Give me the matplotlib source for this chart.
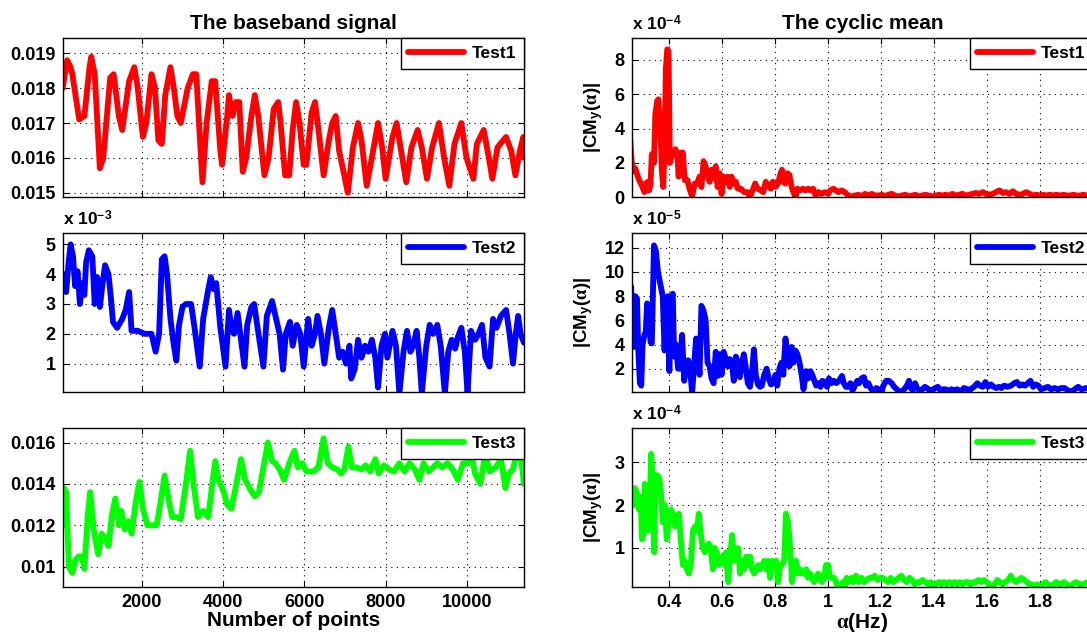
import matplotlib
matplotlib.use("Agg")
import matplotlib.pyplot as plt
from matplotlib.ticker import FuncFormatter

plt.rcParams.update({
    "font.family": ["Liberation Sans", "DejaVu Sans"],
    "font.weight": "bold",
    "mathtext.fontset": "custom",
    "mathtext.rm": "Liberation Serif",
    "mathtext.it": "Liberation Serif:italic",
    "mathtext.bf": "Liberation Sans:bold",
    "axes.linewidth": 1.0,
})

# ---------------- baseband signal (sample index vs amplitude) ----------------
n1 = [50, 160, 245, 287, 457, 584, 711, 754, 838, 966,
      1050, 1220, 1305, 1432, 1517, 1686, 1813, 1898, 2025, 2110,
      2237, 2322, 2407, 2492, 2576, 2704, 2788, 2873, 2958, 3128,
      3255, 3340, 3407, 3492, 3594, 3721, 3806, 3933, 3975, 4102,
      4145, 4230, 4314, 4399, 4484, 4569, 4696, 4781, 4866, 5018,
      5120, 5247, 5357, 5417, 5527, 5629, 5713, 5798, 5883, 5985,
      6052, 6180, 6264, 6349, 6476, 6604, 6688, 6773, 6858, 6985,
      7070, 7197, 7324, 7409, 7536, 7663, 7816, 7918, 8002, 8172,
      8274, 8384, 8511, 8638, 8791, 8893, 9020, 9147, 9316, 9443,
      9571, 9698, 9867, 9994, 10164, 10249, 10418, 10545, 10630, 10757,
      10969, 11096, 11198, 11308, 11393, 11410]
test1 = [.0180, .0188, .0186, .0184, .0171, .0172, .0186, .0189, .0184, .0157,
         .0160, .0183, .0184, .0172, .0168, .0182, .0186, .0180, .0166, .0170,
         .0184, .0180, .0165, .0164, .0178, .0186, .0180, .0172, .0170, .0180,
         .0184, .0184, .0170, .0153, .0170, .0182, .0182, .0162, .0158, .0172,
         .0178, .0172, .0176, .0176, .0156, .0160, .0172, .0178, .0172, .0155,
         .0160, .0174, .0176, .0170, .0155, .0155, .0168, .0176, .0170, .0158,
         .0158, .0173, .0176, .0168, .0155, .0165, .0170, .0172, .0162, .0155,
         .0150, .0163, .0170, .0165, .0152, .0160, .0170, .0163, .0154, .0166,
         .0170, .0162, .0153, .0163, .0168, .0163, .0154, .0163, .0170, .0160,
         .0152, .0164, .0170, .0160, .0154, .0164, .0168, .0160, .0154, .0163,
         .0166, .0162, .0155, .0162, .0166, .0160]

n2 = [50, 92, 135, 203, 245, 304, 355, 415, 474, 525,
      584, 627, 694, 779, 838, 898, 966, 1033, 1093, 1178,
      1237, 1288, 1390, 1517, 1601, 1686, 1746, 1898, 2068, 2237,
      2339, 2424, 2492, 2560, 2619, 2704, 2788, 2848, 2916, 3000,
      3085, 3212, 3297, 3424, 3509, 3636, 3696, 3763, 3831, 3933,
      4060, 4145, 4204, 4272, 4357, 4442, 4526, 4594, 4696, 4764,
      4849, 4993, 5077, 5205, 5289, 5391, 5476, 5544, 5646, 5713,
      5815, 5900, 5985, 6095, 6180, 6264, 6324, 6409, 6493, 6604,
      6688, 6773, 6858, 6943, 7027, 7112, 7155, 7239, 7324, 7409,
      7494, 7579, 7663, 7748, 7816, 7901, 7986, 8045, 8172, 8257,
      8341, 8443, 8528, 8613, 8681, 8765, 8833, 8893, 9003, 9088,
      9173, 9274, 9359, 9461, 9545, 9630, 9715, 9782, 9867, 9952,
      10020, 10105, 10206, 10291, 10376, 10461, 10562, 10647, 10732, 10842,
      10969, 11054, 11139, 11207, 11266, 11325, 11410]
test2 = [3.6, 4.0, 3.4, 4.5, 5.0, 4.6, 3.6, 4.1, 3.0, 3.7,
         3.3, 4.4, 4.8, 4.6, 3.0, 3.9, 2.9, 3.7, 4.3, 4.0,
         3.2, 2.4, 2.2, 2.5, 2.8, 3.4, 2.1, 2.1, 2.0, 2.0,
         1.4, 2.0, 4.5, 4.6, 4.0, 2.5, 1.6, 1.1, 2.3, 2.9,
         3.0, 3.0, 2.2, 0.9, 2.5, 3.5, 3.9, 3.5, 3.7, 2.2,
         0.9, 2.8, 2.2, 2.0, 2.7, 1.8, 0.9, 2.3, 2.9, 3.0,
         2.2, 0.9, 2.6, 3.1, 2.6, 2.0, 0.8, 2.0, 2.4, 1.6,
         2.3, 2.0, 0.9, 2.5, 1.6, 2.0, 2.6, 2.0, 1.0, 2.2,
         2.8, 2.0, 1.2, 1.4, 1.0, 1.6, 0.5, 0.8, 1.8, 1.2,
         1.6, 1.4, 1.8, 1.2, 0.2, 1.6, 2.0, 1.2, 2.1, 1.6,
         0.0, 1.4, 2.1, 1.4, 1.6, 2.1, 1.2, 0.0, 1.6, 2.3,
         2.0, 2.3, 1.6, 0.0, 1.4, 1.8, 1.5, 1.9, 2.2, 1.4,
         0.0, 2.1, 1.8, 2.0, 2.3, 1.2, 0.9, 2.5, 2.2, 2.6,
         2.8, 2.0, 1.0, 2.0, 2.6, 2.0, 1.7]  # x 1e-3

n3 = [50, 84, 135, 203, 287, 355, 440, 525, 584, 669,
      728, 813, 923, 1008, 1093, 1178, 1262, 1347, 1432, 1491,
      1576, 1661, 1746, 1856, 1941, 2025, 2136, 2237, 2364, 2449,
      2559, 2661, 2746, 2848, 2958, 3085, 3187, 3272, 3382, 3509,
      3636, 3721, 3806, 3891, 4018, 4102, 4204, 4357, 4442, 4543,
      4679, 4781, 4883, 4993, 5103, 5205, 5289, 5391, 5501, 5629,
      5756, 5840, 5951, 6052, 6222, 6349, 6476, 6578, 6688, 6816,
      6900, 6985, 7087, 7172, 7282, 7409, 7511, 7621, 7748, 7833,
      7960, 8087, 8214, 8341, 8469, 8596, 8723, 8833, 8935, 9062,
      9173, 9274, 9401, 9528, 9655, 9782, 9910, 10037, 10105, 10206,
      10333, 10461, 10562, 10715, 10842, 10952, 11037, 11139, 11266, 11350,
      11410]
test3 = [.0120, .0138, .0136, .0100, .0097, .0103, .0105, .0105, .0099, .0125,
         .0136, .0118, .0106, .0116, .0114, .0110, .0125, .0133, .0120, .0127,
         .0118, .0122, .0116, .0132, .0141, .0128, .0120, .0120, .0120, .0130,
         .0144, .0132, .0124, .0124, .0123, .0140, .0156, .0140, .0124, .0127,
         .0124, .0138, .0151, .0142, .0136, .0130, .0128, .0143, .0152, .0142,
         .0137, .0134, .0136, .0148, .0160, .0151, .0150, .0147, .0142, .0150,
         .0156, .0148, .0150, .0146, .0146, .0148, .0162, .0150, .0148, .0147,
         .0145, .0147, .0158, .0148, .0148, .0147, .0149, .0146, .0152, .0145,
         .0149, .0147, .0146, .0150, .0146, .0150, .0147, .0142, .0150, .0146,
         .0148, .0150, .0148, .0150, .0147, .0142, .0150, .0150, .0155, .0145,
         .0140, .0155, .0146, .0148, .0152, .0138, .0145, .0147, .0158, .0150,
         .0140]

# ---------------- cyclic mean |CM_y(alpha)| ----------------
a1 = [0.250, 0.258, 0.263, 0.273, 0.279, 0.288, 0.298, 0.308, 0.313, 0.321,
      0.326, 0.331, 0.336, 0.344, 0.349, 0.356, 0.361, 0.368, 0.374, 0.379,
      0.384, 0.389, 0.394, 0.399, 0.404, 0.409, 0.417, 0.425, 0.432, 0.437,
      0.445, 0.453, 0.460, 0.470, 0.478, 0.488, 0.498, 0.507, 0.516, 0.523,
      0.531, 0.539, 0.546, 0.554, 0.561, 0.569, 0.577, 0.584, 0.592, 0.599,
      0.607, 0.615, 0.622, 0.630, 0.637, 0.645, 0.653, 0.660, 0.672, 0.684,
      0.697, 0.706, 0.716, 0.726, 0.735, 0.747, 0.756, 0.766, 0.777, 0.785,
      0.792, 0.802, 0.812, 0.820, 0.827, 0.832, 0.840, 0.847, 0.855, 0.863,
      0.870, 0.878, 0.885, 0.896, 0.906, 0.916, 0.925, 0.934, 0.944, 0.954,
      0.964, 0.975, 0.988, 1.001, 1.009, 1.020, 1.030, 1.040, 1.051, 1.064,
      1.077, 1.089, 1.102, 1.115, 1.127, 1.140, 1.153, 1.165, 1.178, 1.191,
      1.203, 1.216, 1.228, 1.241, 1.254, 1.266, 1.279, 1.292, 1.305, 1.318,
      1.330, 1.343, 1.356, 1.368, 1.381, 1.394, 1.406, 1.419, 1.432, 1.444,
      1.457, 1.470, 1.482, 1.495, 1.508, 1.520, 1.533, 1.546, 1.558, 1.571,
      1.584, 1.596, 1.609, 1.622, 1.634, 1.647, 1.660, 1.672, 1.685, 1.698,
      1.710, 1.723, 1.736, 1.748, 1.761, 1.774, 1.786, 1.799, 1.812, 1.824,
      1.837, 1.850, 1.862, 1.875, 1.888, 1.900, 1.913, 1.926, 1.938, 1.951,
      1.964, 1.976, 2.000]
cm1 = [4.4, 2.5, 1.5, 1.7, 1.4, 1.0, 0.7, 0.3, 0.8, 0.9,
       0.4, 0.8, 2.5, 2.0, 4.8, 5.6, 5.7, 4.0, 1.5, 0.6,
       3.0, 7.5, 8.6, 8.5, 2.0, 2.3, 2.6, 2.8, 2.5, 1.2,
       2.6, 2.6, 1.0, 1.0, 0.5, 0.05, 0.8, 0.8, 1.2, 0.6,
       2.1, 1.8, 1.2, 0.9, 1.6, 1.1, 1.8, 0.6, 1.4, 0.2,
       1.2, 0.9, 1.2, 0.6, 1.2, 0.8, 0.9, 0.5, 0.5, 0.3,
       0.3, 0.0, 0.4, 0.8, 0.5, 0.4, 0.3, 0.9, 0.6, 0.5,
       0.9, 0.6, 0.8, 1.3, 1.6, 0.9, 0.8, 1.4, 1.3, 0.6,
       0.3, 0.0, 0.5, 0.4, 0.5, 0.4, 0.5, 0.4, 0.5, 0.1,
       0.3, 0.2, 0.3, 0.2, 0.4, 0.5, 0.4, 0.3, 0.4, 0.3,
       0.1, 0.05, 0.1, 0.15, 0.05, 0.2, 0.1, 0.2, 0.1, 0.1,
       0.15, 0.05, 0.15, 0.2, 0.1, 0.05, 0.1, 0.15, 0.05, 0.1,
       0.15, 0.05, 0.1, 0.15, 0.1, 0.05, 0.1, 0.15, 0.1, 0.15,
       0.1, 0.2, 0.1, 0.15, 0.2, 0.1, 0.15, 0.2, 0.25, 0.2,
       0.3, 0.2, 0.15, 0.2, 0.3, 0.4, 0.25, 0.3, 0.2, 0.35,
       0.2, 0.15, 0.2, 0.3, 0.2, 0.1, 0.15, 0.1, 0.15, 0.1,
       0.15, 0.1, 0.15, 0.1, 0.15, 0.1, 0.1, 0.15, 0.1, 0.1,
       0.15, 0.1, 0.1]  # x 1e-4

a2 = [0.250, 0.258, 0.263, 0.268, 0.273, 0.280, 0.285, 0.291, 0.296, 0.301,
      0.308, 0.313, 0.318, 0.323, 0.331, 0.336, 0.344, 0.351, 0.359, 0.368,
      0.377, 0.384, 0.389, 0.397, 0.402, 0.407, 0.415, 0.420, 0.427, 0.435,
      0.442, 0.450, 0.458, 0.465, 0.473, 0.480, 0.488, 0.496, 0.503, 0.511,
      0.516, 0.523, 0.531, 0.539, 0.546, 0.554, 0.561, 0.569, 0.577, 0.584,
      0.592, 0.599, 0.607, 0.615, 0.622, 0.630, 0.637, 0.645, 0.653, 0.660,
      0.668, 0.675, 0.683, 0.691, 0.698, 0.706, 0.713, 0.721, 0.728, 0.736,
      0.744, 0.751, 0.760, 0.769, 0.777, 0.785, 0.794, 0.802, 0.809, 0.817,
      0.825, 0.832, 0.840, 0.847, 0.855, 0.863, 0.870, 0.878, 0.885, 0.893,
      0.901, 0.908, 0.918, 0.926, 0.934, 0.941, 0.949, 0.956, 0.964, 0.972,
      0.979, 0.988, 0.997, 1.004, 1.013, 1.022, 1.032, 1.042, 1.053, 1.060,
      1.068, 1.078, 1.085, 1.093, 1.102, 1.111, 1.118, 1.127, 1.136, 1.144,
      1.153, 1.161, 1.172, 1.182, 1.192, 1.202, 1.209, 1.220, 1.230, 1.241,
      1.250, 1.260, 1.270, 1.279, 1.288, 1.298, 1.306, 1.313, 1.321, 1.329,
      1.336, 1.346, 1.356, 1.366, 1.374, 1.384, 1.394, 1.404, 1.415, 1.425,
      1.435, 1.445, 1.455, 1.465, 1.475, 1.488, 1.501, 1.513, 1.526, 1.539,
      1.551, 1.564, 1.574, 1.584, 1.594, 1.604, 1.615, 1.625, 1.635, 1.645,
      1.655, 1.665, 1.678, 1.691, 1.703, 1.713, 1.723, 1.734, 1.744, 1.754,
      1.764, 1.774, 1.784, 1.794, 1.804, 1.817, 1.830, 1.842, 1.855, 1.868,
      1.880, 1.893, 1.906, 1.918, 1.931, 1.944, 1.956, 1.975, 1.993]
cm2 = [9.0, 8.8, 4.0, 3.8, 8.0, 7.8, 3.5, 0.8, 0.6, 4.0,
       4.8, 5.0, 7.4, 7.0, 4.2, 4.1, 12.2, 11.8, 10.0, 9.0,
       8.0, 3.5, 7.8, 8.0, 1.8, 7.8, 8.2, 3.0, 4.0, 2.0,
       2.0, 4.8, 1.0, 2.0, 2.7, 2.0, 0.0, 2.5, 4.5, 3.0,
       1.5, 7.2, 6.8, 6.0, 2.5, 2.2, 1.2, 0.8, 3.4, 1.4,
       3.2, 1.5, 3.4, 2.8, 2.2, 2.8, 2.6, 1.0, 3.0, 2.5,
       1.3, 2.4, 3.2, 2.0, 0.8, 0.5, 1.5, 3.6, 1.5, 0.7,
       0.5, 0.6, 1.5, 2.0, 1.2, 0.7, 0.8, 1.5, 0.6, 2.0,
       2.5, 1.5, 4.5, 3.0, 2.2, 3.8, 2.5, 3.5, 3.2, 2.5,
       1.5, 0.3, 1.8, 1.2, 1.8, 1.5, 1.0, 0.6, 0.8, 0.5,
       1.0, 0.9, 0.5, 1.2, 0.8, 1.0, 0.8, 1.0, 1.4, 0.8,
       0.5, 0.5, 0.8, 0.2, 0.6, 1.0, 0.8, 1.2, 1.3, 0.6,
       0.8, 0.4, 0.1, 0.4, 0.3, 0.0, 0.6, 1.0, 1.0, 0.8,
       0.5, 0.3, 0.1, 0.1, 0.3, 0.6, 1.0, 0.4, 0.2, 0.8,
       0.4, 0.2, 0.3, 0.5, 0.4, 0.2, 0.2, 0.4, 0.5, 0.2,
       0.3, 0.3, 0.1, 0.3, 0.2, 0.3, 0.1, 0.4, 0.3, 0.3,
       0.5, 0.8, 0.6, 0.5, 0.9, 0.5, 0.7, 0.5, 0.4, 0.5,
       0.4, 0.6, 0.5, 0.6, 0.8, 0.9, 0.6, 0.7, 0.6, 0.8,
       1.0, 0.5, 0.7, 0.6, 0.3, 0.4, 0.5, 0.3, 0.4, 0.3,
       0.4, 0.4, 0.2, 0.1, 0.3, 0.5, 0.3, 0.4, 0.3]  # x 1e-5

a3 = [0.255, 0.267, 0.272, 0.279, 0.287, 0.294, 0.299, 0.304, 0.309, 0.317,
      0.322, 0.327, 0.333, 0.340, 0.345, 0.350, 0.357, 0.365, 0.372, 0.377,
      0.385, 0.392, 0.400, 0.408, 0.415, 0.423, 0.430, 0.438, 0.445, 0.453,
      0.460, 0.468, 0.475, 0.483, 0.491, 0.498, 0.506, 0.513, 0.521, 0.528,
      0.536, 0.543, 0.551, 0.558, 0.566, 0.573, 0.581, 0.589, 0.596, 0.604,
      0.611, 0.616, 0.624, 0.631, 0.639, 0.646, 0.654, 0.661, 0.669, 0.677,
      0.684, 0.692, 0.699, 0.707, 0.714, 0.722, 0.729, 0.737, 0.744, 0.752,
      0.760, 0.767, 0.775, 0.782, 0.790, 0.797, 0.805, 0.812, 0.820, 0.827,
      0.835, 0.842, 0.850, 0.858, 0.865, 0.873, 0.880, 0.888, 0.895, 0.903,
      0.910, 0.918, 0.925, 0.933, 0.941, 0.948, 0.956, 0.963, 0.971, 0.978,
      0.986, 0.993, 1.001, 1.008, 1.016, 1.023, 1.031, 1.039, 1.046, 1.056,
      1.064, 1.071, 1.079, 1.089, 1.096, 1.106, 1.116, 1.127, 1.137, 1.147,
      1.157, 1.167, 1.177, 1.187, 1.197, 1.207, 1.217, 1.227, 1.237, 1.247,
      1.257, 1.267, 1.277, 1.287, 1.297, 1.308, 1.318, 1.328, 1.338, 1.348,
      1.358, 1.368, 1.378, 1.388, 1.398, 1.408, 1.418, 1.428, 1.438, 1.448,
      1.458, 1.468, 1.479, 1.489, 1.499, 1.509, 1.519, 1.529, 1.539, 1.549,
      1.559, 1.569, 1.579, 1.589, 1.599, 1.609, 1.619, 1.629, 1.639, 1.649,
      1.659, 1.669, 1.680, 1.690, 1.700, 1.710, 1.720, 1.730, 1.740, 1.750,
      1.760, 1.770, 1.780, 1.790, 1.800, 1.810, 1.820, 1.830, 1.841, 1.851,
      1.861, 1.871, 1.881, 1.891, 1.901, 1.911, 1.923, 1.936, 1.949, 1.961,
      1.980, 1.999]
cm3 = [2.0, 2.0, 2.4, 2.3, 1.9, 2.2, 1.2, 1.3, 2.5, 2.4,
       1.4, 1.5, 3.2, 2.6, 0.9, 2.7, 2.7, 2.6, 2.2, 1.6,
       2.0, 1.2, 1.6, 1.9, 1.8, 1.5, 1.7, 1.8, 1.2, 0.6,
       0.7, 0.5, 0.4, 0.6, 1.4, 1.5, 1.4, 1.8, 1.3, 1.0,
       0.9, 1.0, 1.1, 1.0, 0.5, 1.0, 0.9, 0.6, 0.8, 0.8,
       0.6, 0.9, 0.2, 0.8, 1.3, 0.7, 0.9, 1.0, 0.4, 0.7,
       0.5, 0.8, 0.6, 0.8, 0.5, 0.4, 0.5, 0.6, 0.5, 0.6,
       0.7, 0.5, 0.7, 0.3, 0.7, 0.6, 0.7, 0.2, 0.6, 0.6,
       0.7, 1.8, 1.6, 1.0, 0.2, 0.6, 0.7, 0.4, 0.5, 0.4,
       0.4, 0.5, 0.3, 0.4, 0.3, 0.2, 0.3, 0.4, 0.3, 0.2,
       0.3, 0.6, 0.6, 0.3, 0.3, 0.3, 0.2, 0.05, 0.1, 0.2,
       0.1, 0.3, 0.2, 0.3, 0.2, 0.35, 0.2, 0.3, 0.2, 0.25,
       0.3, 0.3, 0.35, 0.25, 0.3, 0.3, 0.25, 0.2, 0.3, 0.2,
       0.25, 0.3, 0.35, 0.25, 0.2, 0.3, 0.25, 0.15, 0.2, 0.2,
       0.25, 0.2, 0.15, 0.2, 0.1, 0.15, 0.2, 0.15, 0.2, 0.15,
       0.2, 0.15, 0.2, 0.15, 0.2, 0.15, 0.2, 0.2, 0.15, 0.2,
       0.2, 0.25, 0.2, 0.25, 0.2, 0.15, 0.1, 0.15, 0.25, 0.2,
       0.15, 0.2, 0.25, 0.35, 0.25, 0.2, 0.25, 0.3, 0.25, 0.2,
       0.15, 0.15, 0.1, 0.15, 0.1, 0.15, 0.2, 0.15, 0.1, 0.15,
       0.2, 0.15, 0.15, 0.2, 0.15, 0.1, 0.15, 0.2, 0.15, 0.15,
       0.2, 0.15]  # x 1e-4

labels = ["Test1", "Test2", "Test3"]
colors = ["#ff0000", "#0000ff", "#00ff00"]

W, H = 1087, 639
fig = plt.figure(figsize=(W / 100, H / 100), dpi=100)


def panel(x0, top, w=461.3, h=159.0):
    return fig.add_axes([x0 / W, 1 - (top + h) / H, w / W, h / H])


tops = [38.3, 233.3, 428.3]
left_axes = [panel(62.7, t) for t in tops]
right_axes = [panel(631.7, t) for t in tops]

gfmt = FuncFormatter(lambda v, p: "%g" % round(v, 6))

left_data = [(n1, test1), (n2, test2), (n3, test3)]
right_data = [(a1, cm1), (a2, cm2), (a3, cm3)]

left_ylim = [(0.01487, 0.01943), (0.04, 5.37), (0.00901, 0.01669)]
left_yticks = [[0.015, 0.016, 0.017, 0.018, 0.019], [1, 2, 3, 4, 5],
               [0.010, 0.012, 0.014, 0.016]]
right_ylim = [(0.0, 9.25), (0.05, 13.2), (0.08, 3.8)]
right_yticks = [[0, 2, 4, 6, 8], [2, 4, 6, 8, 10, 12], [1, 2, 3]]
right_exp = ["-4", "-5", "-4"]

LW = 4.2


def style(ax):
    ax.grid(True, linestyle=(0, (1, 4)), color="k", linewidth=0.8)
    ax.tick_params(direction="in", top=True, right=True, length=4,
                   width=0.8, labelsize=13, pad=5)
    for lab in ax.get_xticklabels() + ax.get_yticklabels():
        lab.set_fontweight("bold")


def add_legend(ax):
    leg = ax.legend(loc="upper right", borderaxespad=0, fancybox=False,
                    framealpha=1, edgecolor="k", handlelength=3.2,
                    handletextpad=0.45, borderpad=0.45,
                    prop={"weight": "bold", "size": 12.5})
    leg.get_frame().set_linewidth(1.0)


for i, ax in enumerate(left_axes):
    x, y = left_data[i]
    ax.plot(x, y, color=colors[i], lw=LW, label=labels[i],
            solid_joinstyle="round", solid_capstyle="round")
    ax.set_xlim(50, 11410)
    ax.set_ylim(*left_ylim[i])
    ax.set_xticks([2000, 4000, 6000, 8000, 10000])
    ax.set_yticks(left_yticks[i])
    ax.yaxis.set_major_formatter(gfmt)
    if i < 2:
        ax.set_xticklabels([])
    style(ax)
    add_legend(ax)

left_axes[1].text(0.0, 1.03, r"x 10$^{\mathbf{-3}}$", transform=left_axes[1].transAxes,
                  ha="left", va="bottom", fontsize=12.5, fontweight="bold")
left_axes[0].set_title("The baseband signal", fontsize=15, fontweight="bold", pad=7)
left_axes[2].set_xlabel("Number of points", fontsize=15, fontweight="bold", labelpad=0)

for i, ax in enumerate(right_axes):
    x, y = right_data[i]
    ax.plot(x, y, color=colors[i], lw=LW, label=labels[i],
            solid_joinstyle="round", solid_capstyle="round")
    ax.set_xlim(0.26, 2.0)
    ax.set_ylim(*right_ylim[i])
    ax.set_xticks([0.4, 0.6, 0.8, 1.0, 1.2, 1.4, 1.6, 1.8])
    ax.xaxis.set_major_formatter(gfmt)
    ax.set_yticks(right_yticks[i])
    ax.yaxis.set_major_formatter(gfmt)
    if i < 2:
        ax.set_xticklabels([])
    style(ax)
    add_legend(ax)
    ax.text(0.0, 1.03, r"x 10$^{\mathbf{%s}}$" % right_exp[i], transform=ax.transAxes,
            ha="left", va="bottom", fontsize=12.5, fontweight="bold")
    ax.set_ylabel(r"|CM$_{\mathbf{y}}$($\mathrm{\alpha}$)|", fontsize=13.5,
                  fontweight="bold", labelpad=7)

right_axes[0].set_title("The cyclic mean", fontsize=15, fontweight="bold", pad=7)
right_axes[2].set_xlabel(r"$\mathrm{\alpha}$(Hz)", fontsize=15, fontweight="bold", labelpad=0)

fig.savefig("out.png", dpi=100)
